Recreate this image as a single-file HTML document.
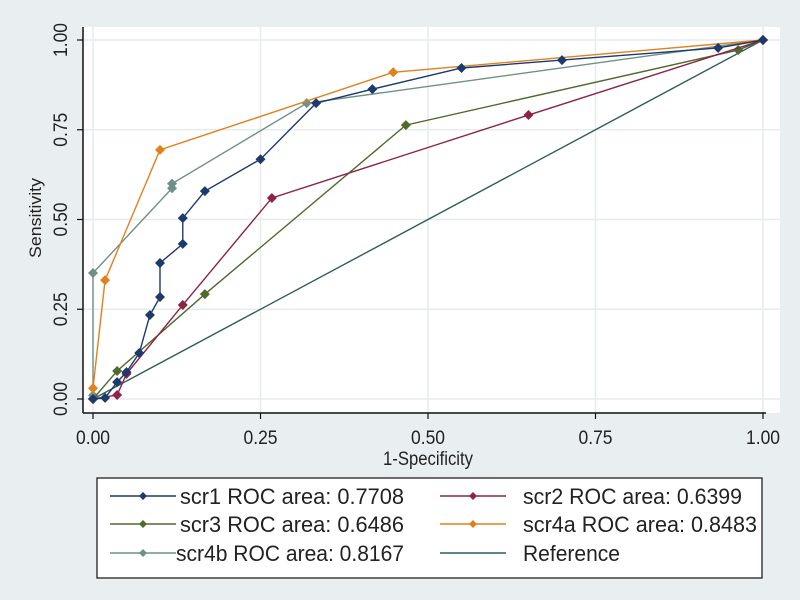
<!DOCTYPE html>
<html><head><meta charset="utf-8"><style>
body{margin:0;background:#e9eff0;}
svg{display:block;font-family:"Liberation Sans",sans-serif;}
</style></head><body>
<svg id="c" width="800" height="600">
<rect x="0" y="0" width="800" height="600" fill="#e9eff0"/>
<rect x="83" y="27" width="697" height="386" fill="#ffffff"/>
<g id="grid"></g>
<g id="series"></g>
<line x1="83" y1="27" x2="83" y2="413" stroke="#111" stroke-width="1.5"/>
<line x1="83" y1="413" x2="766" y2="413" stroke="#111" stroke-width="1.5"/>
<g id="ticks"></g>
<text x="428" y="465" text-anchor="middle" font-size="19" textLength="90" lengthAdjust="spacingAndGlyphs" fill="#222">1-Specificity</text>
<text transform="translate(41,218) rotate(-90)" text-anchor="middle" font-size="17" textLength="80" lengthAdjust="spacingAndGlyphs" fill="#222">Sensitivity</text>
<rect x="97" y="478" width="665" height="100" fill="#fff" stroke="#111" stroke-width="1.2"/>
<g id="legend"></g>
</svg>
<script>
const ticks=[0,0.25,0.5,0.75,1];
const tickLabels=["0.00","0.25","0.50","0.75","1.00"];
const seriesNames=["scr1 ROC area: 0.7708","scr2 ROC area: 0.6399","scr3 ROC area: 0.6486","scr4a ROC area: 0.8483","scr4b ROC area: 0.8167","Reference"];
const colors=["#1c3a6e","#8c2445","#4e6b2c","#e2801e","#6f9088","#2f5e5a"];
const scr1X=[0,0.018,0.036,0.05,0.069,0.085,0.1,0.1,0.134,0.134,0.167,0.25,0.333,0.417,0.55,0.70,0.933,1];
const scr1Y=[0,0.003,0.047,0.075,0.128,0.234,0.284,0.379,0.432,0.504,0.579,0.668,0.824,0.863,0.922,0.944,0.978,1];
const scr2X=[0,0.036,0.05,0.134,0.267,0.65,1];
const scr2Y=[0,0.011,0.07,0.262,0.56,0.791,1];
const scr3X=[0,0.036,0.167,0.467,0.963,1];
const scr3Y=[0,0.078,0.292,0.763,0.972,1];
const scr4aX=[0,0,0.018,0.1,0.448,1];
const scr4aY=[0,0.03,0.331,0.694,0.91,1];
const scr4bX=[0,0,0.118,0.118,0.319,1];
const scr4bY=[0.01,0.351,0.587,0.6,0.824,1];
const refX=[0,1];
const refY=[0,1];
const NS="http://www.w3.org/2000/svg";
const sx=v=>93+v*670, sy=v=>399-v*359;
function mk(tag,attrs,parent){const e=document.createElementNS(NS,tag);for(const k in attrs)e.setAttribute(k,attrs[k]);parent.appendChild(e);return e;}
const grid=document.getElementById('grid'),tk=document.getElementById('ticks'),sg=document.getElementById('series'),lg=document.getElementById('legend');
ticks.forEach((t,i)=>{
 const g1=mk('line',{x1:sx(t),x2:sx(t),y1:27,y2:413,stroke:"#e6ecee","stroke-width":1.5},grid);
 
 
 const g2=mk('line',{x1:83,x2:780,y1:sy(t),y2:sy(t),stroke:"#e6ecee","stroke-width":1.5},grid);
 
 
 mk('line',{x1:sx(t),x2:sx(t),y1:413,y2:419,stroke:"#111","stroke-width":1.2},tk);
 mk('line',{x1:77,x2:83,y1:sy(t),y2:sy(t),stroke:"#111","stroke-width":1.2},tk);
 const xl=mk('text',{x:sx(t),y:444,"text-anchor":"middle","font-size":19,fill:"#222",textLength:34,lengthAdjust:"spacingAndGlyphs"},tk);
 xl.textContent=tickLabels[i];
 
 
 const yl=mk('text',{transform:`translate(67,${sy(t)}) rotate(-90)`,"text-anchor":"middle","font-size":19,fill:"#222",textLength:34,lengthAdjust:"spacingAndGlyphs"},tk);
 yl.textContent=tickLabels[i];
 
 
});
function diamond(x,y,c,p,r){return mk('path',{d:`M${x} ${y-r}L${x+r} ${y}L${x} ${y+r}L${x-r} ${y}Z`,fill:c},p);}
const allX=[refX,scr4bX,scr3X,scr2X,scr4aX,scr1X],allY=[refY,scr4bY,scr3Y,scr2Y,scr4aY,scr1Y],idx=[5,4,2,1,3,0];
allX.forEach((xs,k)=>{
 const c=colors[idx[k]];
 const pl=mk('polyline',{points:xs.map((v,i)=>sx(v)+","+sy(allY[k][i])).join(" "),fill:"none",stroke:c,"stroke-width":1.4},sg);
 
 
 if(idx[k]!==5) xs.forEach((v,i)=>{
  const d=diamond(sx(v),sy(allY[k][i]),c,sg,5);
  
  
 });
});
const pos=[[110,180,504,224],[440,523,504,219],[110,180,532,224],[440,523,532,234],[110,176,561,228],[440,523,561,97]];
seriesNames.forEach((n,i)=>{
 const [lx,tx,y,w]=pos[i];
 mk('line',{x1:lx,x2:lx+66,y1:y-8,y2:y-8,stroke:colors[i],"stroke-width":1.5},lg);
 if(i<5) diamond(lx+33,y-8,colors[i],lg,4);
 const t=mk('text',{x:tx,y:y,"font-size":22,fill:"#222",textLength:w,lengthAdjust:"spacingAndGlyphs"},lg);
 t.textContent=n;
 
 
});
</script>
</body></html>
